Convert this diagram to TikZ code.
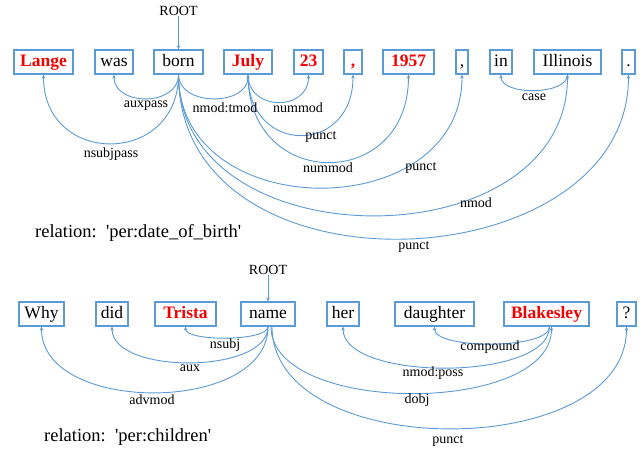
\documentclass[tikz,border=0pt]{standalone}
\usepackage{fontspec}
\setmainfont{Liberation Serif}
\usetikzlibrary{arrows.meta}
\definecolor{arcblue}{RGB}{91,155,213}
\definecolor{wred}{RGB}{245,0,0}
\tikzset{
  word/.style={draw=arcblue, line width=1.2pt, minimum height=24pt, inner xsep=2pt, inner ysep=0pt,
    text height=12pt, text depth=4pt, font=\fontsize{17.5}{20}\selectfont},
  ent/.style={word, text=wred, font=\fontsize{17.5}{20}\selectfont\bfseries},
  dep/.style={draw=arcblue, line width=0.9pt, -{Stealth[length=4pt,width=3.5pt]}},
  lab/.style={font=\fontsize{14}{16}\selectfont, inner sep=0pt},
  rel/.style={font=\fontsize{18.5}{20}\selectfont, inner sep=0pt, anchor=west},
  rootlab/.style={font=\fontsize{14}{16}\selectfont, inner sep=0pt}
}
\begin{document}
\begin{tikzpicture}[x=1pt,y=-1pt]
\useasboundingbox (0,0) rectangle (644,448);
% ---------- sentence 1 ----------
\node[ent, minimum width=59pt] (w1) at (43.5,62) {Lange};
\node[word, minimum width=38pt] (w2) at (114,62) {was};
\node[word, minimum width=49pt] (w3) at (178.5,62) {born};
\node[ent, minimum width=48pt] (w4) at (248,62) {July};
\node[ent, minimum width=29pt] (w5) at (308.5,62) {23};
\node[ent, minimum width=18pt] (w6) at (353,62) {,};
\node[ent, minimum width=51pt] (w7) at (408.5,62) {1957};
\node[word, minimum width=12pt] (w8) at (462,62) {,};
\node[word, minimum width=22pt] (w9) at (501,62) {in};
\node[word, minimum width=67pt] (w10) at (567.5,62) {Illinois};
\node[word, minimum width=13pt] (w11) at (628.5,62) {.};
\node[rootlab] (root1) at (178.5,11) {ROOT};
\draw[dep] (root1.south) -- (w3.north);

\draw[dep] (w3.south) .. controls +(0,32) and +(0,32) .. (w2.south);
\draw[dep] (w3.south) .. controls +(0,92) and +(0,92) .. (w1.south);
\draw[dep] (w3.south) .. controls +(0,32) and +(0,32) .. (w4.south);
\draw[dep] (w4.south) .. controls +(0,37) and +(0,37) .. (w5.south);
\draw[dep] (w4.south) .. controls +(0,81) and +(0,81) .. (w6.south);
\draw[dep] (w4.south) .. controls +(0,117) and +(0,117) .. (w7.south);
\draw[dep] (w3.south) .. controls +(0,151) and +(0,151) .. (w8.south);
\draw[dep] (w3.south) .. controls +(0,188) and +(0,188) .. (w10.south);
\draw[dep] (w3.south) .. controls +(0,230) and +(0,208) .. (w11.south);
\draw[dep] (w10.south) .. controls +(0,21) and +(0,21) .. (w9.south);

\node[lab] (l1) at (146,106) {auxpass};
\node[lab] (l2) at (111,154) {nsubjpass};
\node[lab] (l3) at (225,108) {nmod:tmod};
\node[lab] (l4) at (298,108) {nummod};
\node[lab] (l5) at (321,137) {punct};
\node[lab] (l6) at (328,168) {nummod};
\node[lab] (l7) at (421,168) {punct};
\node[lab] (l8) at (476,203) {nmod};
\node[lab] (l9) at (414,247) {punct};
\node[lab] (l10) at (534,97) {case};

\node[rel] (rel1) at (35,233) {relation:\ \ \textquotesingle per:date\_of\_birth\textquotesingle};

% ---------- sentence 2 ----------
\node[word, minimum width=45pt] (v1) at (41.5,314) {Why};
\node[word, minimum width=32pt] (v2) at (112,314) {did};
\node[ent, minimum width=61pt] (v3) at (185.5,314) {Trista};
\node[word, minimum width=54pt] (v4) at (268,314) {name};
\node[word, minimum width=32pt] (v5) at (343,314) {her};
\node[word, minimum width=79pt] (v6) at (434.5,314) {daughter};
\node[ent, minimum width=85pt] (v7) at (546.5,314) {Blakesley};
\node[word, minimum width=19pt] (v8) at (626.5,314) {?};
\node[rootlab] (root2) at (268,270) {ROOT};
\draw[dep] (root2.south) -- (v4.north);

\draw[dep] (v4.south) .. controls +(0,15) and +(0,15) .. (v3.south);
\draw[dep] (v4.south) .. controls +(0,48) and +(0,48) .. (v2.south);
\draw[dep] (v4.south) .. controls +(0,88) and +(0,88) .. (v1.south);
\draw[dep] ([xshift=3pt]v4.south) .. controls +(0,89) and +(0,89) .. ([xshift=5pt]v7.south);
\draw[dep] ([xshift=4pt]v4.south) .. controls +(0,136) and +(0,136) .. (v8.south);
\draw[dep] ([xshift=3pt]v7.south) .. controls +(0,23) and +(0,23) .. (v6.south);
\draw[dep] ([xshift=3pt]v7.south) .. controls +(0,55) and +(0,55) .. (v5.south);

\node[lab] (m1) at (225,345) {nsubj};
\node[lab] (m2) at (190,368) {aux};
\node[lab] (m3) at (152,400) {advmod};
\node[lab] (m4) at (490,347) {compound};
\node[lab] (m5) at (433,373) {nmod:poss};
\node[lab] (m6) at (417,400) {dobj};
\node[lab] (m7) at (448,441) {punct};

\node[rel] (rel2) at (44,437) {relation:\ \ \textquotesingle per:children\textquotesingle};
\end{tikzpicture}
\end{document}
